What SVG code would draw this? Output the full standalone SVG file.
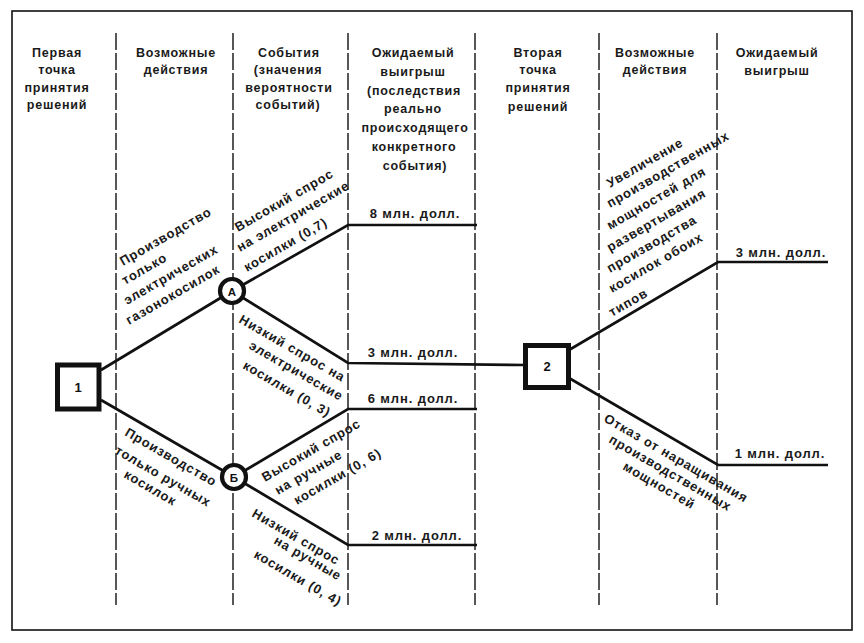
<svg xmlns="http://www.w3.org/2000/svg" width="864" height="643" viewBox="0 0 864 643">
<style>
.t{font-family:"Liberation Sans",Arial,sans-serif;font-size:12.5px;font-weight:bold;letter-spacing:0.8px;fill:#1a1a1a}
.l{font-size:13px;letter-spacing:0.9px}
.m{text-anchor:middle}
.ln{fill:none;stroke:#111;stroke-width:2.7;stroke-linejoin:miter}
.dash{stroke:#111;stroke-width:1.4;stroke-dasharray:17 3}
.frame{fill:none;stroke:#111;stroke-width:1.6}
.sq{fill:#fff;stroke:#111;stroke-width:5}
.ci{fill:#fff;stroke:#111;stroke-width:4.2}
.n{font-family:"Liberation Sans",Arial,sans-serif;font-weight:bold;fill:#111;text-anchor:middle}
</style>
<rect x="0" y="0" width="864" height="643" fill="#fff"/>
<rect class="frame" x="12" y="11" width="840" height="619"/>
<g id="columns">
<line class="dash" x1="116" y1="33" x2="116" y2="605"/>
<line class="dash" x1="233" y1="33" x2="233" y2="605"/>
<line class="dash" x1="348" y1="33" x2="348" y2="605"/>
<line class="dash" x1="475" y1="33" x2="475" y2="605"/>
<line class="dash" x1="599" y1="33" x2="599" y2="605"/>
<line class="dash" x1="717" y1="33" x2="717" y2="605"/>
</g>
<g id="headers" class="t m">
<text x="57" y="57">Первая</text>
<text x="57" y="74">точка</text>
<text x="57" y="92">принятия</text>
<text x="57" y="109">решений</text>
<text x="176" y="57">Возможные</text>
<text x="176" y="74">действия</text>
<text x="289" y="57">События</text>
<text x="288" y="74">(значения</text>
<text x="289" y="92">вероятности</text>
<text x="288" y="109">событий)</text>
<text x="413" y="57">Ожидаемый</text>
<text x="413" y="76">выигрыш</text>
<text x="414" y="95">(последствия</text>
<text x="413" y="113">реально</text>
<text x="415" y="132">происходящего</text>
<text x="414" y="151">конкретного</text>
<text x="415" y="170">события)</text>
<text x="538" y="57">Вторая</text>
<text x="538" y="74">точка</text>
<text x="538" y="92">принятия</text>
<text x="538" y="111">решений</text>
<text x="655" y="57">Возможные</text>
<text x="655" y="74">действия</text>
<text x="777" y="57">Ожидаемый</text>
<text x="777" y="75">выигрыш</text>
</g>
<g id="connectors">
<polyline class="ln" points="101,370 232,291"/>
<polyline class="ln" points="101,400 234,477"/>
<polyline class="ln" points="232,291 348,225 477,225"/>
<polyline class="ln" points="232,291 348,363 525,365"/>
<polyline class="ln" points="234,477 348,409 477,409"/>
<polyline class="ln" points="234,477 348,545 477,545"/>
<polyline class="ln" points="569,350 718,262 828,262"/>
<polyline class="ln" points="569,378 718,465 828,465"/>
</g>
<g id="node-1">
<rect class="sq" x="57.5" y="365" width="41.5" height="44"/>
<text class="n" x="78" y="392" font-size="13">1</text>
</g>
<g id="node-A">
<circle class="ci" cx="232" cy="291" r="12"/>
<text class="n" x="232" y="295.5" font-size="11.5">А</text>
</g>
<g id="node-B">
<circle class="ci" cx="234" cy="477" r="12"/>
<text class="n" x="234" y="481.5" font-size="11.5">Б</text>
</g>
<g id="node-2">
<rect class="sq" x="525.5" y="345.5" width="43" height="42"/>
<text class="n" x="547" y="371" font-size="13">2</text>
</g>
<g id="labels" class="t l">
<text transform="translate(123,266) rotate(-30)">Производство</text>
<text transform="translate(125,285) rotate(-30)">только</text>
<text transform="translate(127,305) rotate(-30)">электрических</text>
<text transform="translate(129,325) rotate(-30)">газонокосилок</text>
<text transform="translate(238,232) rotate(-30)">Высокий спрос</text>
<text transform="translate(240,252) rotate(-30)">на электрические</text>
<text transform="translate(247,272) rotate(-30)">косилки (0,7)</text>
<text transform="translate(238,322) rotate(30)">Низкий спрос на</text>
<text transform="translate(248,348) rotate(30)">электрические</text>
<text transform="translate(242,368) rotate(30)">косилки (0, 3)</text>
<text transform="translate(124,435) rotate(30)">Производство</text>
<text transform="translate(114,453) rotate(30)">только ручных</text>
<text transform="translate(123,477) rotate(30)">косилок</text>
<text transform="translate(265,482) rotate(-30)">Высокий спрос</text>
<text transform="translate(278,495) rotate(-30)">на ручные</text>
<text transform="translate(297,505) rotate(-30)">косилки (0, 6)</text>
<text transform="translate(251,516) rotate(30)">Низкий спрос</text>
<text transform="translate(273,543) rotate(30)">на ручные</text>
<text transform="translate(253,557) rotate(30)">косилки (0, 4)</text>
<text transform="translate(610,188) rotate(-30)">Увеличение</text>
<text transform="translate(610,208) rotate(-30)">производственных</text>
<text transform="translate(610,230) rotate(-30)">мощностей для</text>
<text transform="translate(610,252) rotate(-30)">развертывания</text>
<text transform="translate(610,273) rotate(-30)">производства</text>
<text transform="translate(612,293) rotate(-30)">косилок обоих</text>
<text transform="translate(612,317) rotate(-30)">типов</text>
<text transform="translate(603,421) rotate(30)">Отказ от наращивания</text>
<text transform="translate(608,442) rotate(30)">производственных</text>
<text transform="translate(622,469) rotate(30)">мощностей</text>
</g>
<g id="values" class="t l m">
<text x="415" y="218">8 млн. долл.</text>
<text x="413" y="357">3 млн. долл.</text>
<text x="413" y="403">6 млн. долл.</text>
<text x="417" y="540">2 млн. долл.</text>
<text x="781" y="257">3 млн. долл.</text>
<text x="780" y="458">1 млн. долл.</text>
</g>
</svg>
